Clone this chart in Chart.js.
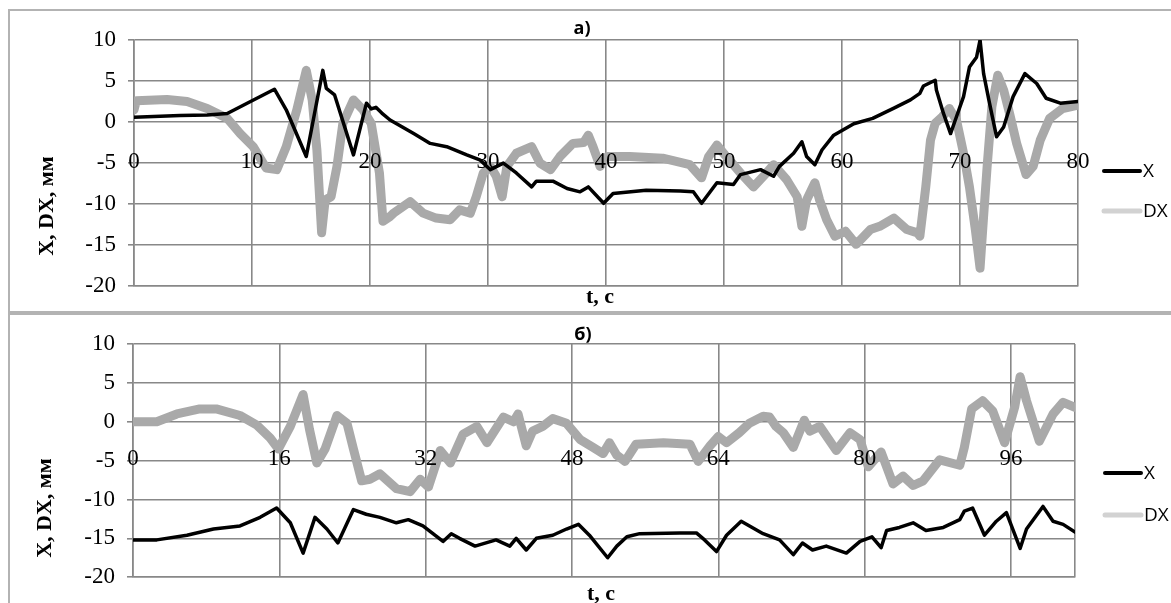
<!DOCTYPE html>
<html><head><meta charset="utf-8">
<script src="https://cdn.jsdelivr.net/npm/chart.js@4.4.1/dist/chart.umd.min.js"></script>
<style>
html,body{margin:0;padding:0;background:#fff;}
body{width:1171px;height:603px;overflow:hidden;position:relative;}
.panel{position:absolute;left:8px;width:1180px;border:2px solid #b3b3b3;box-sizing:border-box;}
#pa{top:9px;height:304px;}
#pb{top:313px;height:300px;}
.wrap{position:absolute;left:0;width:1171px;}
#wa{top:0;height:312px;}
#wb{top:313px;height:290px;}
</style></head>
<body>
<div class="panel" id="pa"></div>
<div class="panel" id="pb"></div>
<div class="wrap" id="wa"><canvas id="ca"></canvas></div>
<div class="wrap" id="wb"><canvas id="cb"></canvas></div>
<script>
// ---- data ----
const seriesNames = ['X', 'DX'];
const yTicks = [-20, -15, -10, -5, 0, 5, 10];
const xTicksA = [0, 10, 20, 30, 40, 50, 60, 70, 80];
const xTicksB = [0, 16, 32, 48, 64, 80, 96];
const xMaxA = 80;
const xMaxB = 103;

// panel a) : [t, value]
const aX = [[0,0.6],[3.9,0.8],[6.2,0.85],[7.9,1.05],[10,2.6],[11.9,4.0],[12.9,1.5],[14.6,-4.2],[16.0,6.3],[16.3,4.1],[17.0,3.3],[18.6,-4.0],[19.7,2.3],[20.1,1.6],[20.5,1.8],[21.0,1.1],[21.7,0.25],[23.7,-1.4],[25.1,-2.6],[26.5,-3.0],[28.2,-4.0],[29.3,-4.6],[30.2,-5.8],[31.3,-5.0],[32.4,-6.2],[33.7,-7.9],[34.1,-7.2],[35.5,-7.2],[36.7,-8.1],[37.8,-8.5],[38.5,-7.9],[39.8,-9.9],[40.6,-8.7],[43.4,-8.3],[46.3,-8.4],[47.4,-8.5],[48.1,-9.9],[49.4,-7.4],[50.8,-7.6],[51.4,-6.4],[53.1,-5.8],[54.2,-6.6],[54.7,-5.4],[55.9,-3.8],[56.6,-2.4],[57.0,-4.2],[57.7,-5.2],[58.3,-3.4],[59.3,-1.6],[61.0,-0.2],[62.6,0.45],[64.4,1.7],[65.8,2.7],[66.6,3.5],[66.9,4.4],[67.9,5.1],[68.0,3.9],[68.6,1.05],[69.2,-1.4],[69.7,0.65],[70.3,3.1],[70.8,6.7],[71.4,7.9],[71.7,10],[72.0,5.9],[72.5,2.3],[73.1,-1.8],[73.7,-0.6],[74.5,3.1],[75.5,5.9],[76.5,4.7],[77.3,2.9],[78.5,2.3],[80,2.5]];
const aDX = [[0,1.5],[0.2,2.6],[2.8,2.75],[4.5,2.5],[6.2,1.65],[7.9,0.45],[9.0,-1.4],[10.1,-3.0],[11.2,-5.6],[12.1,-5.8],[12.9,-3.0],[13.8,1.5],[14.6,6.3],[15.1,2.7],[15.5,-3.4],[15.9,-13.5],[16.2,-9.5],[16.7,-9.1],[17.2,-5.4],[17.7,-0.15],[18.6,2.7],[19.4,1.5],[20.1,-0.15],[20.8,-6.2],[21.1,-12.1],[21.7,-11.5],[22.0,-11.1],[23.4,-9.7],[24.5,-11.1],[25.6,-11.7],[26.8,-11.9],[27.6,-10.7],[28.5,-11.1],[29.0,-9.1],[29.6,-6.2],[30.2,-5.4],[30.7,-6.6],[31.2,-9.1],[31.6,-5.4],[32.4,-3.8],[33.7,-3.0],[34.4,-5.0],[35.3,-5.8],[36.1,-4.2],[37.2,-2.6],[38.1,-2.5],[38.5,-1.6],[38.9,-3.0],[39.5,-5.4],[40.1,-4.2],[42.0,-4.2],[44.8,-4.4],[47.1,-5.2],[48.1,-6.8],[48.7,-4.2],[49.4,-2.8],[50.2,-4.2],[51.4,-6.2],[52.5,-7.9],[53.6,-6.2],[54.2,-5.2],[55.3,-7.0],[56.2,-9.1],[56.6,-12.7],[57.0,-9.5],[57.7,-7.4],[58.1,-9.5],[58.7,-11.9],[59.4,-13.9],[60.3,-13.3],[61.2,-14.9],[62.4,-13.1],[63.2,-12.7],[64.4,-11.7],[65.5,-13.1],[66.4,-13.5],[66.6,-13.9],[67.1,-7.9],[67.5,-2.2],[67.9,-0.15],[68.5,0.65],[69.1,1.65],[69.7,0.25],[70.3,-3.8],[70.8,-7.9],[71.3,-13.1],[71.7,-17.8],[72.0,-11.5],[72.3,-5.4],[72.7,1.85],[73.2,5.7],[73.7,3.9],[74.2,1.05],[74.8,-2.6],[75.6,-6.4],[76.2,-5.4],[76.8,-2.2],[77.6,0.45],[78.7,1.65],[80,2.05]];

// panel б) : [t, value]
const bX = [[0,-15.2],[2.6,-15.2],[5.9,-14.6],[8.8,-13.8],[11.7,-13.4],[13.9,-12.3],[15.7,-11.1],[17.2,-13.0],[18.6,-16.9],[19.9,-12.3],[21.2,-13.8],[22.4,-15.6],[24.1,-11.3],[25.5,-11.9],[27.0,-12.3],[28.8,-13.0],[30.1,-12.6],[31.7,-13.4],[33.9,-15.4],[34.8,-14.4],[35.7,-15.0],[37.4,-16.0],[39.7,-15.2],[41.2,-16.0],[41.9,-15.0],[43.0,-16.5],[44.1,-15.0],[45.9,-14.6],[47.4,-13.8],[48.7,-13.2],[49.9,-14.6],[51.9,-17.5],[52.9,-16.0],[54.0,-14.8],[55.4,-14.4],[59.8,-14.3],[61.6,-14.3],[62.5,-15.2],[63.8,-16.7],[64.9,-14.6],[66.5,-12.8],[68.9,-14.4],[70.7,-15.2],[72.2,-17.1],[73.2,-15.6],[74.3,-16.5],[75.8,-16.0],[78.0,-16.9],[79.5,-15.4],[80.8,-14.8],[81.8,-16.2],[82.4,-14.0],[83.8,-13.6],[85.3,-13.0],[86.7,-14.0],[88.6,-13.6],[90.4,-12.6],[90.9,-11.5],[91.8,-11.1],[93.1,-14.6],[94.4,-12.8],[95.5,-11.7],[97.0,-16.3],[97.7,-13.8],[99.5,-10.9],[100.6,-12.8],[101.7,-13.2],[103,-14.2]];
const bDX = [[0,0],[2.6,0],[4.8,1.0],[7.3,1.65],[9.1,1.65],[11.7,0.8],[13.5,-0.4],[15.0,-2.1],[15.9,-3.5],[17.2,-0.6],[18.6,3.5],[19.3,-1.0],[20.1,-5.3],[21.0,-3.5],[22.3,0.8],[23.4,-0.2],[24.1,-3.5],[25.0,-7.6],[25.9,-7.4],[27.0,-6.7],[28.8,-8.6],[30.3,-9.0],[31.4,-7.4],[32.3,-8.4],[33.6,-3.7],[34.7,-5.3],[36.1,-1.6],[37.6,-0.6],[38.7,-2.7],[40.5,0.6],[41.6,0],[42.1,1.0],[43.0,-3.1],[43.7,-1.2],[44.8,-0.6],[45.9,0.4],[47.4,-0.2],[48.9,-2.3],[50.3,-3.3],[51.4,-4.1],[52.1,-2.7],[52.9,-4.3],[53.8,-5.1],[55.0,-2.9],[58.0,-2.7],[60.9,-2.9],[61.8,-5.1],[63.1,-3.1],[64.0,-1.9],[64.9,-2.7],[66.3,-1.4],[67.4,-0.2],[68.9,0.7],[69.6,0.6],[70.3,-0.6],[71.1,-1.4],[72.2,-3.3],[73.4,0.2],[74.0,-1.2],[75.1,-0.6],[76.9,-3.7],[78.4,-1.4],[79.5,-2.3],[80.4,-5.8],[81.8,-3.9],[83.1,-8.0],[84.2,-7.0],[85.3,-8.2],[86.4,-7.6],[88.2,-4.9],[90.4,-5.6],[90.9,-3.3],[91.7,1.65],[92.9,2.7],[94.0,1.4],[95.3,-2.7],[96.4,1.85],[97.0,5.8],[97.7,2.7],[99.1,-2.5],[100.6,1.0],[101.7,2.5],[103,1.85]];

// ---- chart builder ----
const SERIF = "'Liberation Serif', 'Times New Roman', serif";
const GRID = '#888888';

const decor = {
  id: 'decor',
  afterDraw(chart, args, o) {
    const ctx = chart.ctx, x = chart.scales.x, y = chart.scales.y;
    ctx.save();
    ctx.fillStyle = '#000';
    ctx.textAlign = 'center';
    ctx.textBaseline = 'middle';
    ctx.font = '23px ' + SERIF;
    const ly = y.getPixelForValue(o.labelAt) + o.labelDy;
    o.xLabels.forEach(v => ctx.fillText(String(v), x.getPixelForValue(v), ly));
    ctx.font = "bold 18px 'Open Sans', 'Liberation Sans', sans-serif";
    ctx.fillText(o.title, o.titleX, o.titleY);
    ctx.font = 'bold 22px ' + SERIF;
    ctx.fillText('t, c', o.xTitleX, o.xTitleY);
    ctx.translate(o.yTitleX, o.yTitleY);
    ctx.rotate(-Math.PI / 2);
    ctx.fillText('X, DX, мм', 0, 0);
    ctx.restore();
    ctx.save();
    chart.data.datasets.forEach((ds, i) => {
      const yy = o.legendY[i];
      ctx.strokeStyle = ds.legendColor;
      ctx.lineWidth = ds.legendWidth;
      ctx.lineCap = 'round';
      ctx.beginPath();
      ctx.moveTo(o.legendX, yy);
      ctx.lineTo(o.legendX + 36, yy);
      ctx.stroke();
      ctx.fillStyle = '#000';
      ctx.font = "19px 'Open Sans', 'Liberation Sans', sans-serif";
      ctx.textAlign = 'left';
      ctx.textBaseline = 'middle';
      ctx.fillText(ds.label, o.legendX + 39, yy + 1);
    });
    ctx.restore();
  }
};

function toPts(arr) { return arr.map(p => ({x: p[0], y: p[1]})); }

function build(canvasId, xs, dxs, xTicks, xMax, pad, yAxisW, deco) {
  return new Chart(document.getElementById(canvasId), {
    type: 'line',
    data: {
      datasets: [
        {label: seriesNames[0], data: toPts(xs), borderColor: '#000', borderWidth: 3.5,
         pointRadius: 0, borderJoinStyle: 'round', borderCapStyle: 'round', tension: 0,
         legendColor: '#000', legendWidth: 4},
        {label: seriesNames[1], data: toPts(dxs), borderColor: '#a9a9a9', borderWidth: 9,
         pointRadius: 0, borderJoinStyle: 'round', borderCapStyle: 'round', tension: 0,
         legendColor: '#d2d2d2', legendWidth: 5}
      ]
    },
    options: {
      responsive: true, maintainAspectRatio: false, animation: false, devicePixelRatio: 1,
      layout: {padding: pad},
      plugins: {legend: {display: false}, tooltip: {enabled: false}, title: {display: false}, decor: deco},
      scales: {
        x: {type: 'linear', min: 0, max: xMax,
            afterBuildTicks: s => { const t = xTicks.slice(); if (t[t.length-1] !== xMax) t.push(xMax); s.ticks = t.map(v => ({value: v})); },
            afterFit: s => { s.height = 0; },
            ticks: {display: false},
            grid: {color: GRID, lineWidth: 1.6, drawTicks: false},
            border: {display: true, color: GRID, width: 1.6}},
        y: {type: 'linear', min: -20, max: 10,
            afterBuildTicks: s => { s.ticks = yTicks.map(v => ({value: v})); },
            afterFit: s => { s.width = yAxisW; },
            ticks: {font: {family: SERIF, size: 23}, color: '#000', padding: 12},
            grid: {color: GRID, lineWidth: 1.6, drawTicks: true, tickLength: 6},
            border: {display: true, color: GRID, width: 1.6}}
      }
    },
    plugins: [decor]
  });
}

build('ca', aX, aDX, xTicksA, xMaxA, {left: 64, right: 93, top: 40, bottom: 25}, 70,
  {xLabels: xTicksA, labelAt: -5, labelDy: -1, title: 'a)', titleX: 582, titleY: 29,
   xTitleX: 600, xTitleY: 297, yTitleX: 47, yTitleY: 206, legendX: 1104, legendY: [171, 211]});
build('cb', bX, bDX, xTicksB, xMaxB, {left: 63, right: 96, top: 31, bottom: 16}, 70,
  {xLabels: xTicksB, labelAt: -5, labelDy: -2, title: 'б)', titleX: 583, titleY: 22,
   xTitleX: 601, xTitleY: 281, yTitleX: 45, yTitleY: 195, legendX: 1105, legendY: [160, 202]});
</script>
</body></html>
